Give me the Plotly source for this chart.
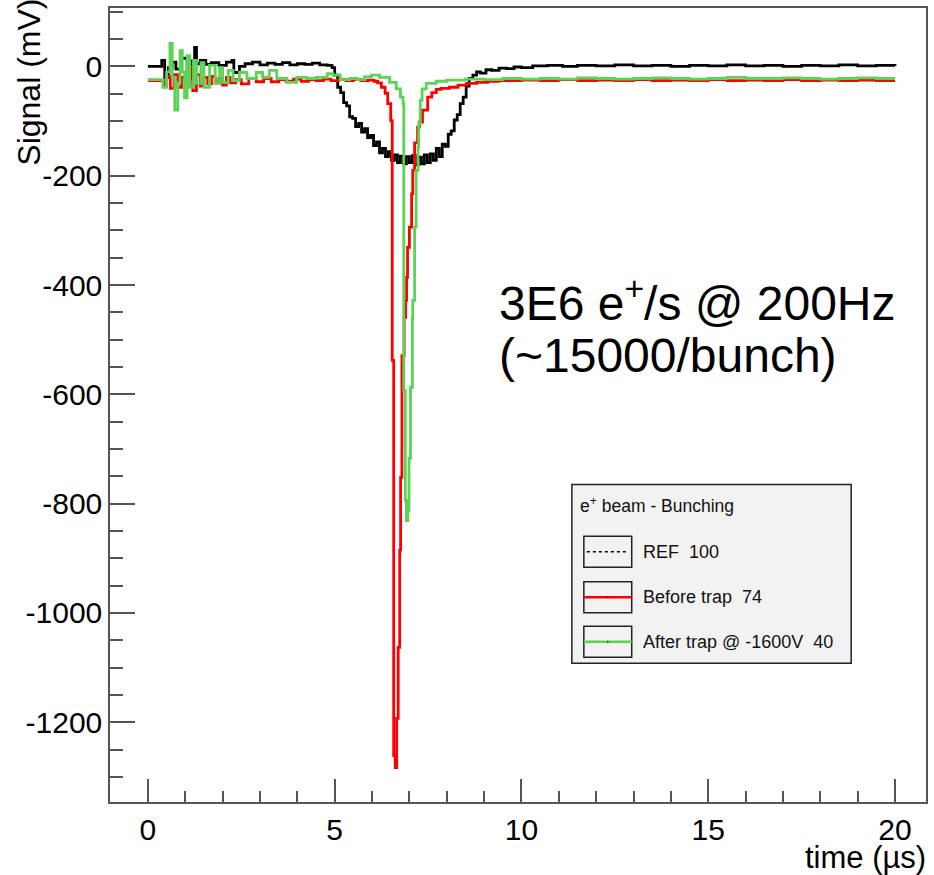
import plotly.graph_objects as go

# ---------------------------------------------------------------- data
# REF beam signal (mV) vs time (us)
ref_t = [0.0, 0.35, 0.37, 0.45, 0.55, 0.65, 0.75, 0.9, 1.05, 1.15, 1.25, 1.3,
         1.4, 1.55, 1.7, 1.9, 2.1, 2.25, 2.3, 2.45, 2.6, 2.8, 3.0, 3.2, 3.4,
         3.6, 3.8, 4.0, 4.2, 4.4, 4.6, 4.8, 4.93, 5.0, 5.08, 5.16, 5.24, 5.32,
         5.4, 5.48, 5.56, 5.64, 5.72, 5.8, 5.88, 5.96, 6.04, 6.12, 6.2, 6.28,
         6.36, 6.44, 6.52, 6.6, 6.68, 6.76, 6.84, 6.92, 7.0, 7.08, 7.16, 7.24,
         7.32, 7.4, 7.48, 7.56, 7.64, 7.72, 7.8, 7.88, 7.96, 8.04, 8.12, 8.2,
         8.28, 8.36, 8.44, 8.52, 8.6, 8.7, 8.8, 8.9, 9.05, 9.2, 9.4, 9.6, 9.8,
         10.0, 10.3, 10.7, 11.1, 11.5, 12.0, 12.5, 13.0, 13.5, 14.0, 14.5,
         15.0, 15.5, 16.0, 16.5, 17.0, 17.5, 18.0, 18.5, 19.0, 19.5, 20.0]
ref_v = [0, 0, 11, -20, -2, 8, -5, 15, -22, 10, 35, 5,
         11, 4, 7, 2, 8, 11, -11, 0, 5, 8, 3, 6, 4,
         7, 3, 5, 4, 6, 3, 2, -2, -16, -38, -48, -66, -72,
         -92, -95, -110, -104, -120, -114, -130, -126, -145, -138, -158, -150,
         -165, -156, -172, -162, -176, -164, -178, -165, -176, -163, -180, -166,
         -178, -162, -176, -160, -172, -150, -165, -142, -146, -124, -118, -98,
         -88, -68, -56, -36, -22, -16, -10, -12, -6, -7, -3, -4, -1,
         -2, 1, 2, 0, 2, 1, 3, 1, 2, 0, 2,
         1, 3, 1, 2, 0, 2, 1, 3, 1, 2, 1]

# Before trap
before_t = [0.0, 0.38, 0.42, 0.5, 0.6, 0.7, 0.8, 0.9, 1.0, 1.12, 1.2, 1.3,
            1.4, 1.5, 1.6, 1.7, 1.8, 1.9, 2.0, 2.1, 2.2, 2.35, 2.5, 2.7, 2.9,
            3.1, 3.3, 3.5, 3.7, 3.9, 4.1, 4.3, 4.5, 4.7, 4.9, 5.1, 5.3, 5.5,
            5.7, 5.9, 6.05, 6.15, 6.25, 6.35, 6.42, 6.50, 6.54, 6.58, 6.62,
            6.66, 6.70, 6.74, 6.765, 6.80, 6.86, 6.90, 6.925, 6.95, 7.0, 7.06,
            7.09, 7.14, 7.22, 7.27, 7.35, 7.49, 7.6, 7.72, 7.85, 8.07, 8.3,
            8.53, 8.8, 9.1, 9.4, 10.0, 10.5, 11.0, 11.5, 12.0, 12.5, 13.0,
            13.5, 14.0, 14.5, 15.0, 15.5, 16.0, 16.5, 17.0, 17.5, 18.0, 18.5,
            19.0, 19.5, 20.0]
before_v = [-26, -26, -35, -18, -40, -15, -38, -20, -30, 0, -44, -15,
            -36, -20, -32, -18, -30, -22, -34, -20, -30, -24, -32, -22, -28,
            -22, -28, -24, -27, -23, -27, -24, -26, -23, -26, -24, -26, -24,
            -26, -25, -27, -30, -38, -49, -68, -99, -538, -1261, -1283,
            -1193, -1063, -885, -752, -529, -459, -428, -386, -331, -294, -233,
            -190, -140, -111, -102, -80, -56, -48, -42, -40, -38, -34,
            -31, -29, -27, -26, -25, -26, -24, -26, -25, -26, -24,
            -26, -25, -26, -24, -26, -25, -26, -24, -26, -25, -26,
            -25, -26, -26]

# After trap @ -1600V
after_t = [0.0, 0.35, 0.4, 0.5, 0.59, 0.65, 0.72, 0.8, 0.86, 0.92, 0.98, 1.05,
           1.12, 1.22, 1.3, 1.42, 1.5, 1.65, 1.8, 1.92, 2.0, 2.15, 2.28, 2.45,
           2.65, 2.9, 3.07, 3.25, 3.45, 3.72, 3.98, 4.25, 4.5, 4.8, 4.95, 5.15,
           5.4, 5.6, 5.8, 5.98, 6.2, 6.47, 6.65, 6.76, 6.83, 6.85, 6.89, 6.92,
           6.96, 6.99, 7.03, 7.08, 7.09, 7.14, 7.18, 7.23, 7.25, 7.29, 7.34,
           7.45, 7.72, 8.0, 8.5, 9.0, 9.5, 10.0, 10.5, 11.0, 11.5, 12.0, 12.5,
           13.0, 13.5, 14.0, 14.5, 15.0, 15.5, 16.0, 16.5, 17.0, 17.5, 18.0,
           18.5, 19.0, 19.5, 20.0]
after_v = [-24, -24, -38, -10, 42, -20, -80, -30, 29, -10, -57, 20,
           -38, 11, -31, 7, -38, 2, -31, -2, -29, -7, -26, -11,
           -22, -11, -20, -7, -22, -29, -20, -22, -20, -13, -16, -24,
           -22, -24, -19, -16, -20, -29, -41, -56, -68, -593, -794, -831,
           -812, -717, -587, -461, -428, -294, -190, -148, -104, -62, -41,
           -31, -27, -25, -23, -24, -22, -23, -22, -23, -21, -22, -23,
           -22, -21, -22, -23, -22, -20, -22, -22, -21, -22, -23,
           -22, -21, -22, -22]

series = [
    ("REF", ref_t, ref_v, "#000000"),
    ("Before trap", before_t, before_v, "#ff0000"),
    ("After trap @ -1600V", after_t, after_v, "#59d454"),
]

legend_title = "e<sup>+</sup> beam - Bunching"
legend_labels = ["REF\u00a0\u00a0100", "Before trap\u00a0\u00a074",
                 "After trap @ -1600V\u00a0\u00a040"]

x_tick_vals = [0, 5, 10, 15, 20]
y_tick_vals = [0, -200, -400, -600, -800, -1000, -1200]
y_tick_text = ["0", "-200", "-400", "-600", "-800", "-1000", "-1200"]

# ---------------------------------------------------------------- layout helpers
W, H = 934, 875
L, R, T, B = 110, 928, 7, 802
FONT = "Liberation Sans, Arial, Helvetica, sans-serif"
AXIS_COL = "#555555"


def px(x):
    return (x - L) / (R - L)


def py(y):
    return (B - y) / (B - T)


fig = go.Figure()
for name, t, v, col in series:
    fig.add_trace(go.Scatter(x=t, y=v, mode="lines", name=name,
                             line=dict(color=col, width=2.8, shape="hv"),
                             showlegend=False, hoverinfo="skip"))

shapes = []
annotations = []

# legend panel
shapes.append(dict(type="rect", xref="paper", yref="paper",
                   x0=px(573), x1=px(853), y0=py(663), y1=py(484),
                   fillcolor="#f2f2f2", line=dict(color="#222222", width=1.5),
                   layer="above"))
annotations.append(dict(text=legend_title, xref="paper", yref="paper",
                        x=px(579), y=py(505), xanchor="left", yanchor="middle",
                        showarrow=False, font=dict(family=FONT, size=17.5, color="#111")))

rows = [551.5, 597, 641.5]
styles = [("#000000", "dot", 1.6), ("#ff0000", "solid", 2.6), ("#59d454", "solid", 2.6)]
for yc, (col, dash, w), lab in zip(rows, styles, legend_labels):
    shapes.append(dict(type="rect", xref="paper", yref="paper",
                       x0=px(585), x1=px(633), y0=py(yc + 15.5), y1=py(yc - 15.5),
                       line=dict(color="#222222", width=1.5), layer="above"))
    x0 = 588 if dash == "dot" else 585
    x1 = 630 if dash == "dot" else 633
    shapes.append(dict(type="line", xref="paper", yref="paper",
                       x0=px(x0), x1=px(x1), y0=py(yc), y1=py(yc),
                       line=dict(color=col, width=w, dash=dash), layer="above"))
    if dash != "dot":
        shapes.append(dict(type="circle", xref="paper", yref="paper",
                           x0=px(608.2), x1=px(609.8), y0=py(yc + 0.8), y1=py(yc - 0.8),
                           fillcolor="#000", line=dict(width=0), layer="above"))
    annotations.append(dict(text=lab, xref="paper", yref="paper",
                            x=px(642), y=py(yc), xanchor="left", yanchor="middle",
                            showarrow=False,
                            font=dict(family=FONT, size=18, color="#111")))

# beam condition note
annotations.append(dict(text="3E6 e<sup>+</sup>/s @ 200Hz", xref="paper", yref="paper",
                        x=px(498), y=py(299), xanchor="left", yanchor="middle",
                        showarrow=False, font=dict(family=FONT, size=48, color="#000")))
annotations.append(dict(text="(~15000/bunch)", xref="paper", yref="paper",
                        x=px(498), y=py(355), xanchor="left", yanchor="middle",
                        showarrow=False, font=dict(family=FONT, size=48, color="#000")))

# axis titles, aligned to the axis ends
annotations.append(dict(text="time (\u00b5s)", xref="paper", yref="paper",
                        x=px(930), y=py(858), xanchor="right", yanchor="middle",
                        showarrow=False, font=dict(family=FONT, size=31, color="#000")))
annotations.append(dict(text="Signal (mV)", xref="paper", yref="paper",
                        x=px(28), y=py(-4), xanchor="center", yanchor="top",
                        textangle=-90, showarrow=False,
                        font=dict(family=FONT, size=32, color="#000")))

fig.update_layout(
    width=W, height=H,
    margin=dict(l=L, r=W - R, t=T, b=H - B, pad=0),
    paper_bgcolor="white", plot_bgcolor="white",
    font=dict(family=FONT, color="#000"),
    shapes=shapes, annotations=annotations,
    xaxis=dict(range=[-1.015, 20.83], tickvals=x_tick_vals,
               ticks="inside", ticklen=23, tickwidth=1.5, tickcolor=AXIS_COL,
               showline=True, linecolor=AXIS_COL, linewidth=1.5, mirror=True,
               showgrid=False, zeroline=False,
               minor=dict(dtick=1, tick0=0, ticks="inside", ticklen=11,
                          tickwidth=1.5, tickcolor=AXIS_COL, showgrid=False),
               tickfont=dict(family=FONT, size=30, color="#000")),
    yaxis=dict(range=[-1346, 107], tickvals=y_tick_vals, ticktext=y_tick_text,
               ticks="inside", ticklen=25, tickwidth=1.5, tickcolor=AXIS_COL,
               showline=True, linecolor=AXIS_COL, linewidth=1.5, mirror=True,
               showgrid=False, zeroline=False,
               minor=dict(dtick=50, tick0=0, ticks="inside", ticklen=13,
                          tickwidth=1.5, tickcolor=AXIS_COL, showgrid=False),
               tickfont=dict(family=FONT, size=30, color="#000")),
)

fig.write_html("out.html")
